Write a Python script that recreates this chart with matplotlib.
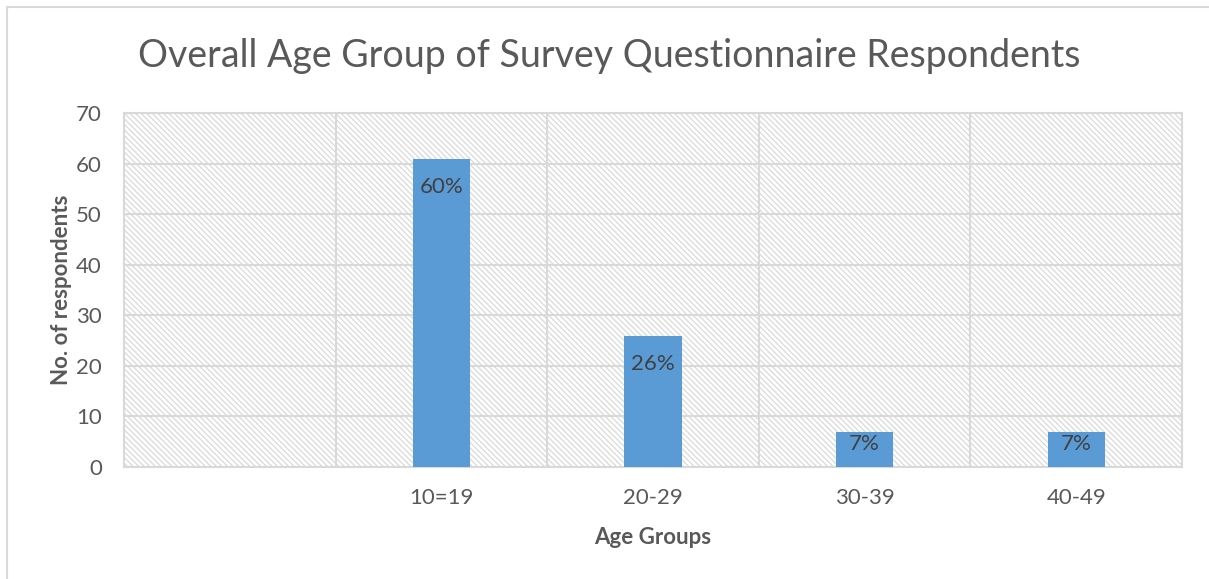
import matplotlib.pyplot as plt
from matplotlib.lines import Line2D

# survey counts per age group (first slot is left empty on purpose)
categories = ["", "10=19", "20-29", "30-39", "40-49"]
counts = [0, 61, 26, 7, 7]
pct_labels = ["", "60%", "26%", "7%", "7%"]

plt.rcParams['font.family'] = ['Lato', 'DejaVu Sans']
plt.rcParams['hatch.color'] = '#d9d9d9'
plt.rcParams['hatch.linewidth'] = 0.9

TEXT = '#595959'
GRID = '#d9d9d9'

fig = plt.figure(figsize=(12.09, 5.79), dpi=100)
ax = fig.add_axes([124/1209, 1 - 467/579, (1182-124)/1209, (467-113)/579])

# hatched plot background
ax.patch.set_facecolor('white')
ax.patch.set_hatch('\\' * 6)
ax.patch.set_edgecolor('#d9d9d9')

x = list(range(len(categories)))
ax.bar(x[1:], counts[1:], width=0.27, color='#5b9bd5', zorder=3)

# percentage labels just inside the bar ends
for xi, c, lab in zip(x, counts, pct_labels):
    if lab:
        gap = 3.7 if c > 15 else 0.5
        ax.text(xi, c - gap, lab, ha='center', va='top', fontsize=16,
                color='#404040', zorder=4)

ax.set_xlim(-0.5, len(categories) - 0.5)
ax.set_ylim(0, 70)
ax.set_yticks(range(0, 71, 10))
ax.set_xticks(x)
ax.set_xticklabels(categories)
ax.set_xticks([i + 0.5 for i in x[:-1]], minor=True)

ax.grid(axis='y', color=GRID, linewidth=1.5, zorder=1)
ax.grid(axis='x', which='minor', color=GRID, linewidth=1.5, zorder=1)
ax.grid(axis='x', which='major', visible=False)
ax.set_axisbelow(True)

for s in ax.spines.values():
    s.set_color(GRID)
    s.set_linewidth(1.5)

ax.tick_params(axis='both', which='both', length=0, labelsize=16, colors=TEXT)
ax.tick_params(axis='x', pad=15)
ax.tick_params(axis='y', pad=16)

ax.set_xlabel("Age Groups", fontsize=16, fontweight='bold', color=TEXT, labelpad=14)
ax.set_ylabel("No. of respondents", fontsize=16, fontweight='bold', color=TEXT, labelpad=3)

fig.text(0.504, 1 - 56/579, "Overall Age Group of Survey Questionnaire Respondents",
         ha='center', va='center', fontsize=27, color=TEXT)

# chart border (left and top edges only)
fig.add_artist(Line2D([7/1209, 7/1209], [0, 1 - 7/579], color=GRID, linewidth=1.5))
fig.add_artist(Line2D([7/1209, 1], [1 - 7/579, 1 - 7/579], color=GRID, linewidth=1.5))

fig.savefig('out.png', dpi=100)
